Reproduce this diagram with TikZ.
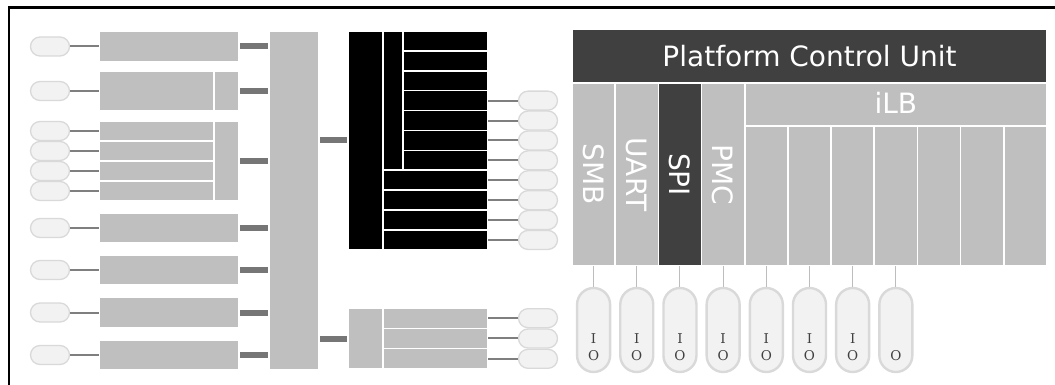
\documentclass[tikz,border=0pt]{standalone}
\usepackage{fontspec}
\setmainfont{DejaVu Sans}
\newfontfamily\iofont{DejaVu Serif}
\definecolor{blockgray}{HTML}{BFBFBF}
\definecolor{pcudark}{HTML}{404040}
\definecolor{barcol}{HTML}{767676}
\definecolor{wirecol}{HTML}{7F7F7F}
\definecolor{pillfill}{HTML}{F2F2F2}
\definecolor{pilldraw}{HTML}{D9D9D9}
\definecolor{stubcol}{HTML}{BDBDBD}

\tikzset{
  cell/.style={rectangle, draw=white, line width=1.6pt, fill=blockgray, inner sep=0pt, outer sep=0pt},
  darkcell/.style={cell, fill=pcudark},
  blackcell/.style={cell, fill=black},
  pill/.style={rectangle, rounded corners=9.5pt, draw=pilldraw, line width=1.3pt, fill=pillfill, minimum width=39pt, minimum height=19pt, inner sep=0pt},
  iopill/.style={rectangle, rounded corners=16.5pt, draw=pilldraw, line width=2.4pt, fill=pillfill, minimum width=33pt, minimum height=84pt, inner sep=0pt},
  bar/.style={draw=barcol, line width=6pt, shorten <=1pt, shorten >=1pt},
  wire/.style={draw=wirecol, line width=2pt},
  stub/.style={draw=stubcol, line width=1pt},
  bigtext/.style={text=white, font=\fontsize{28}{32}\selectfont, inner sep=0pt},
  sidetext/.style={bigtext, rotate=-90},
  iotext/.style={text=pcudark, font=\iofont\fontsize{13.5}{16}\selectfont, inner sep=0pt},
}

% box from corner (x1,y1) to (x2,y2): name, x1, y1, x2, y2, style
\newcommand{\blk}[6]{%
  \node[#6, minimum width={((#4)-(#2))*1pt}, minimum height={((#5)-(#3))*1pt}]
    (#1) at ({((#2)+(#4))/2},{((#3)+(#5))/2}) {};}

\begin{document}
\begin{tikzpicture}[x=1pt, y=-1pt]
  \useasboundingbox (0,0) rectangle (1055,385);
  % Frame
  \draw[line width=2.5pt] (9.2,385) -- (9.2,7.3) -- (1055,7.3);

  % Left blocks
  \blk{b1}{99}{31}{239}{62}{cell}
  \blk{b2}{99}{71}{214}{111}{cell}
  \blk{b2s}{214}{71}{239}{111}{cell}
  \foreach \k in {1,...,4} {\blk{b3r\k}{99}{121+20*(\k-1)}{214}{121+20*\k}{cell}}
  \blk{b3s}{214}{121}{239}{201}{cell}
  \foreach \k/\y in {5/213, 6/255, 7/297.5, 8/340} {\blk{b\k}{99}{\y}{239}{\y+30}{cell}}

  % Bus
  \blk{bus}{269}{31}{319}{370}{cell}

  % Black hub
  \blk{hubL}{348}{31}{383}{250}{blackcell}
  \blk{hubM}{383}{31}{403}{170.3}{blackcell}
  \foreach \k in {1,...,7} {\blk{hr\k}{403}{31+19.9*(\k-1)}{488}{31+19.9*\k}{blackcell}}
  \foreach \k in {8,...,11} {\blk{hr\k}{383}{31+19.9*(\k-1)}{488}{31+19.9*\k}{blackcell}}

  % Lower block
  \blk{lowL}{348}{308}{383}{369}{cell}
  \foreach \k in {1,2,3} {\blk{lr\k}{383}{308+20.33*(\k-1)}{488}{308+20.33*\k}{cell}}

  % Platform Control Unit
  \blk{pcu}{572}{29}{1047}{83}{darkcell}
  \node[bigtext] (pcutext) at (pcu) {Platform Control Unit};
  \foreach \k/\s in {1/cell, 2/cell, 3/darkcell, 4/cell} {\blk{col\k}{572+43.18*(\k-1)}{83}{572+43.18*\k}{266}{\s}}
  \blk{ilb}{744.7}{83}{1047}{126}{cell}
  \node[bigtext] (ilbtext) at ([yshift=2pt]ilb.center) {iLB};
  \foreach \k in {5,...,11} {\blk{col\k}{572+43.18*(\k-1)}{126}{572+43.18*\k}{266}{cell}}
  \foreach \k/\t in {1/SMB, 2/UART, 3/SPI, 4/PMC} {\node[sidetext] (side\k) at (col\k) {\t};}

  % Bars to bus
  \foreach \b in {b1, b2s, b3s, b5, b6, b7, b8} {\draw[bar] (\b.east) -- (\b.east -| bus.west);}
  \draw[bar] (bus.east |- hubL.west) -- (hubL.west);
  \draw[bar] (bus.east |- lowL.west) -- (lowL.west);

  % Left pills
  \coordinate (pillx) at (50,0);
  \foreach \b in {b1, b2, b3r1, b3r2, b3r3, b3r4, b5, b6, b7, b8} {
    \node[pill] (p\b) at (\b.west -| pillx) {};
    \draw[wire] (p\b.east) -- (\b.west);
  }

  % Right pills
  \coordinate (rpillx) at (538,0);
  \foreach \k in {4,...,11} {
    \node[pill] (rp\k) at (hr\k.east -| rpillx) {};
    \draw[wire] (hr\k.east) -- (rp\k.west);
  }
  \foreach \k in {1,2,3} {
    \node[pill] (lp\k) at (lr\k.east -| rpillx) {};
    \draw[wire] (lr\k.east) -- (lp\k.west);
  }

  % IO pills
  \coordinate (ioy) at (0,330);
  \foreach \k in {1,...,8} {
    \node[iopill] (io\k) at (col\k.south |- ioy) {};
    \draw[stub] (col\k.south) -- (io\k.north);
    \node[iotext] (o\k) at ([yshift=18pt]io\k.south) {O};
  }
  \foreach \k in {1,...,7} {\node[iotext] (i\k) at ([yshift=35pt]io\k.south) {I};}
\end{tikzpicture}
\end{document}
